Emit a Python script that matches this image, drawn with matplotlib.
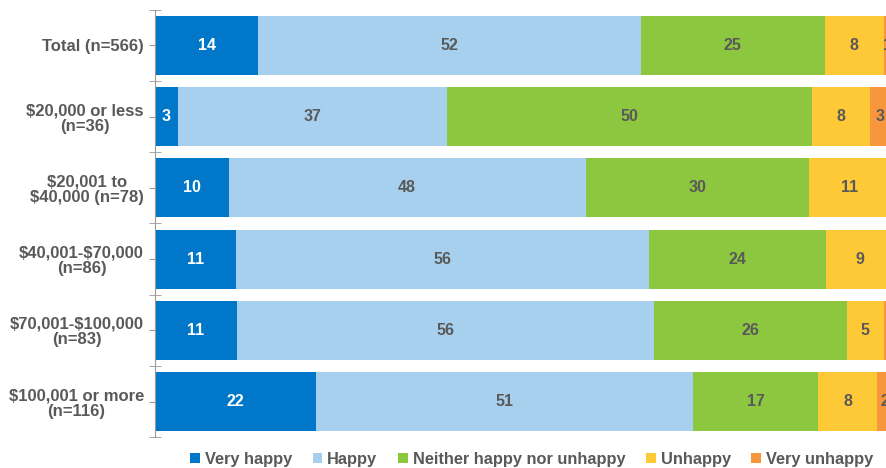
import numpy as np
import matplotlib.pyplot as plt
from matplotlib.patches import Patch

categories = ["Total (n=566)", "\\$20,000 or less\n(n=36)", "\\$20,001 to\n\\$40,000 (n=78)",
              "\\$40,001-\\$70,000\n(n=86)", "\\$70,001-\\$100,000\n(n=83)", "\\$100,001 or more\n(n=116)"]
series = ["Very happy", "Happy", "Neither happy nor unhappy", "Unhappy", "Very unhappy"]

very_happy = [14.0, 3.1, 10.0, 11.0, 11.1, 21.9]
happy = [52.0, 36.6, 48.5, 56.1, 56.7, 51.2]
neither = [25.0, 49.6, 30.4, 24.1, 26.2, 17.0]
unhappy = [8.0, 7.8, 11.0, 9.0, 5.0, 8.0]
very_unhappy = [1.0, 2.9, 0.0, 0.0, 1.5, 2.0]
labels = [[14, 3, 10, 11, 11, 22],
          [52, 37, 48, 56, 56, 51],
          [25, 50, 30, 24, 26, 17],
          [8, 8, 11, 9, 5, 8],
          [1, 3, 0, 0, 1, 2]]

colors = ["#0077C8", "#A7CFEE", "#8DC63F", "#FDC936", "#F7963C"]
plt.rcParams['font.family'] = ['Liberation Sans', 'DejaVu Sans']
grey = "#595959"

fig = plt.figure(figsize=(8.86, 4.68), dpi=100)
ax = fig.add_axes([0.175, 0.066, 0.825, 0.913])

data = [very_happy, happy, neither, unhappy, very_unhappy]
y = np.arange(len(categories))
left = np.zeros(len(categories))
for i, vals in enumerate(data):
    vals = np.array(vals)
    ax.barh(y, vals, left=left, height=0.83, color=colors[i], edgecolor='none')
    for j, v in enumerate(vals):
        if labels[i][j] > 0:
            ax.text(left[j] + v / 2, y[j], str(labels[i][j]), ha='center', va='center',
                    fontsize=11.5, fontweight='bold',
                    color='white' if i == 0 else grey, clip_on=True)
    left += vals

ax.set_xlim(0, 99.3)
ax.set_ylim(5.5, -0.5)
ax.set_yticks(y)
ax.set_yticklabels(categories, fontsize=12, fontweight='bold', color=grey,
                   linespacing=1.05, multialignment='center')
ax.set_yticks(np.arange(-0.5, 6.0, 1.0), minor=True)
ax.tick_params(axis='y', which='major', length=4, color='#999999', pad=4)
ax.tick_params(axis='y', which='minor', length=8, direction='inout', color='#999999')
ax.tick_params(axis='x', bottom=False, labelbottom=False)
for s in ['top', 'right', 'bottom']:
    ax.spines[s].set_visible(False)
ax.spines['left'].set_color('#999999')

handles = [Patch(facecolor=c, edgecolor='none') for c in colors]
fig.legend(handles, series, loc='center', bbox_to_anchor=(0.600, 0.019), ncol=5,
           frameon=False, handlelength=0.6, handleheight=0.6, handletextpad=0.3,
           columnspacing=1.25, prop={'size': 11.8, 'weight': 'bold'}, labelcolor=grey)

fig.savefig("out.png", dpi=100)
